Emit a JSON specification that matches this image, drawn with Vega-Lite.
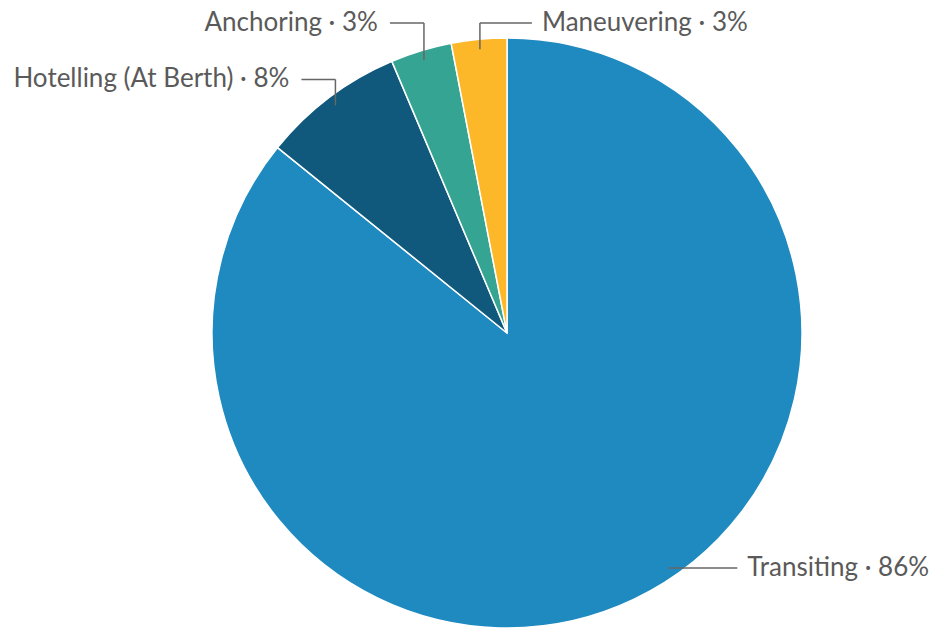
{
  "$schema": "https://vega.github.io/schema/vega-lite/v6.json",
  "width": 590,
  "height": 590,
  "autosize": {"type": "none"},
  "padding": {"left": 212, "top": 38, "right": 129, "bottom": 0},
  "background": "white",
  "config": {"view": {"stroke": null}},
  "data": {
    "values": [
      {"category": "Transiting", "value": 85.8},
      {"category": "Hotelling (At Berth)", "value": 7.8},
      {"category": "Anchoring", "value": 3.35},
      {"category": "Maneuvering", "value": 3.03}
    ]
  },
  "transform": [
    {"joinaggregate": [{"op": "sum", "field": "value", "as": "total"}]},
    {"window": [{"op": "sum", "field": "value", "as": "cum"}], "sort": [{"field": "value", "order": "descending"}], "frame": [null, 0]},
    {"calculate": "2*PI*(datum.cum - datum.value/2)/datum.total", "as": "mid"},
    {"calculate": "datum.mid > 2.54 && datum.mid < PI ? 2.54 : datum.mid", "as": "ang"},
    {"calculate": "285*sin(datum.ang)", "as": "x1"},
    {"calculate": "285*cos(datum.ang)", "as": "y1"},
    {"calculate": "datum.x1 > -45 ? 1 : -1", "as": "dir"},
    {"calculate": "datum.y1 < 0 ? datum.y1 : (datum.y1 > 260 ? 310 : datum.y1 + 26)", "as": "ye"},
    {"calculate": "datum.x1 + datum.dir*(datum.dir > 0 ? (datum.y1 < 0 ? 69 : 52) : 34)", "as": "xe"},
    {"calculate": "datum.xe + datum.dir*(datum.dir > 0 ? 10 : 12)", "as": "xt"},
    {"calculate": "datum.category + ' · ' + format(datum.value, '.0f') + '%'", "as": "label"}
  ],
  "layer": [
    {
      "mark": {"type": "arc", "stroke": "white", "strokeWidth": 1.5},
      "encoding": {
        "theta": {"field": "value", "type": "quantitative", "stack": true},
        "order": {"field": "value", "type": "quantitative", "sort": "descending"},
        "color": {
          "field": "category",
          "type": "nominal",
          "scale": {
            "domain": ["Transiting", "Hotelling (At Berth)", "Anchoring", "Maneuvering"],
            "range": ["#1f8ac0", "#10597c", "#36a492", "#fdb829"]
          },
          "legend": null
        }
      }
    },
    {
      "mark": {"type": "rule", "stroke": "#666666", "strokeWidth": 1.5},
      "encoding": {
        "x": {"field": "x1", "type": "quantitative", "scale": {"domain": [-295, 295], "nice": false, "zero": false}, "axis": null},
        "y": {"field": "y1", "type": "quantitative", "scale": {"domain": [-295, 295], "nice": false, "zero": false}, "axis": null},
        "y2": {"field": "ye"}
      }
    },
    {
      "mark": {"type": "rule", "stroke": "#666666", "strokeWidth": 1.5},
      "encoding": {
        "x": {"field": "x1", "type": "quantitative", "scale": {"domain": [-295, 295], "nice": false, "zero": false}, "axis": null},
        "x2": {"field": "xe"},
        "y": {"field": "ye", "type": "quantitative", "scale": {"domain": [-295, 295], "nice": false, "zero": false}, "axis": null}
      }
    },
    {
      "transform": [{"filter": "datum.dir > 0"}],
      "mark": {"type": "text", "align": "left", "baseline": "middle", "font": "Lato", "fontSize": 26, "fill": "#5a5a5a"},
      "encoding": {
        "x": {"field": "xt", "type": "quantitative", "scale": {"domain": [-295, 295], "nice": false, "zero": false}, "axis": null},
        "y": {"field": "ye", "type": "quantitative", "scale": {"domain": [-295, 295], "nice": false, "zero": false}, "axis": null},
        "text": {"field": "label"}
      }
    },
    {
      "transform": [{"filter": "datum.dir < 0"}],
      "mark": {"type": "text", "align": "right", "baseline": "middle", "font": "Lato", "fontSize": 26, "fill": "#5a5a5a"},
      "encoding": {
        "x": {"field": "xt", "type": "quantitative", "scale": {"domain": [-295, 295], "nice": false, "zero": false}, "axis": null},
        "y": {"field": "ye", "type": "quantitative", "scale": {"domain": [-295, 295], "nice": false, "zero": false}, "axis": null},
        "text": {"field": "label"}
      }
    }
  ]
}
